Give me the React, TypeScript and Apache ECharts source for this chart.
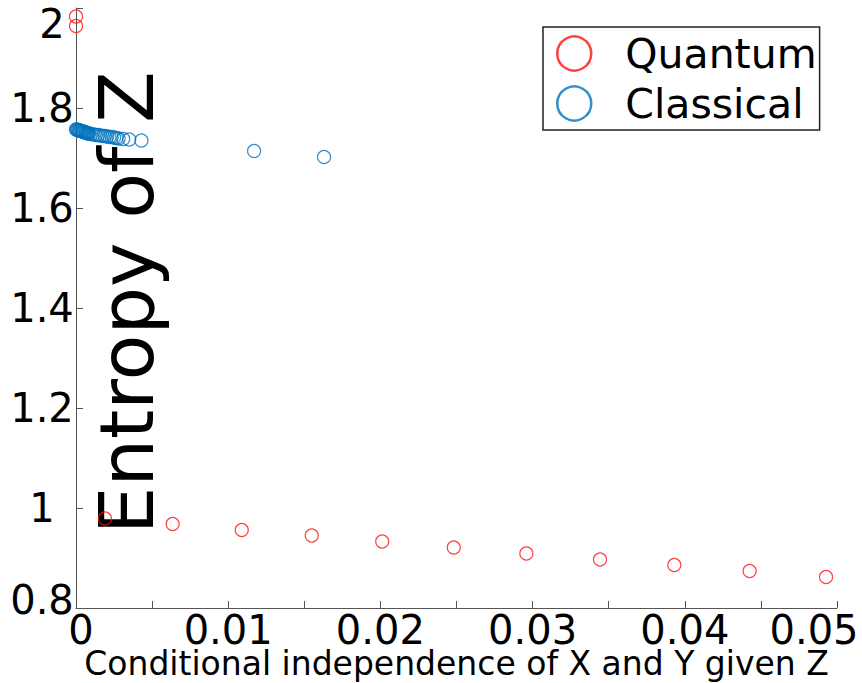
import React, { useEffect, useRef } from "react";
import * as echarts from "echarts";

const quantumX = [0, 0, 0.0019, 0.00635, 0.01089, 0.01549, 0.02012, 0.02482, 0.02959, 0.03443, 0.03931, 0.04426, 0.04928];
const quantumY = [1.983, 1.964, 0.979, 0.968, 0.956, 0.945, 0.933, 0.921, 0.909, 0.897, 0.886, 0.874, 0.862];

const classicalX = [
  0, 0.00005, 0.0001, 0.00015, 0.0002, 0.00025, 0.0003, 0.00035, 0.0004, 0.00045,
  0.0005, 0.00055, 0.0006, 0.00065, 0.0007, 0.00075, 0.0008, 0.00085, 0.001, 0.00115,
  0.0013, 0.00145, 0.0016, 0.00175, 0.0019, 0.00205, 0.0022, 0.00235, 0.0025, 0.00265,
  0.0028, 0.0031, 0.0035, 0.0043, 0.0117, 0.0163,
];
const classicalY = [
  1.757, 1.757, 1.756, 1.756, 1.755, 1.755, 1.754, 1.754, 1.753, 1.753,
  1.752, 1.752, 1.751, 1.751, 1.75, 1.75, 1.749, 1.749, 1.748, 1.747,
  1.746, 1.746, 1.745, 1.744, 1.744, 1.743, 1.742, 1.742, 1.741, 1.74,
  1.739, 1.738, 1.737, 1.735, 1.714, 1.702,
];

const seriesNames = ["Quantum", "Classical"];
const xTitle = "Conditional independence of X and Y given Z";
const yTitle = "Entropy of Z";

const FONT = "DejaVu Sans";
const RED = "#ff1010";
const BLUE = "#0072bd";

export default function App() {
  const ref = useRef<HTMLDivElement>(null);
  useEffect(() => {
    if (!ref.current) return;
    const chart = echarts.init(ref.current, undefined, { renderer: "svg" });
    const q = quantumX.map((x, i) => [x, quantumY[i]]);
    const c = classicalX.map((x, i) => [x, classicalY[i]]);
    const labelBase = { fontFamily: FONT, fontSize: 40, color: "#000" };
    const xLabelBase = { ...labelBase, lineHeight: 34 };
    chart.setOption({
      animation: false,
      backgroundColor: "#fff",
      grid: { left: 76, top: 8, right: 25, bottom: 75, containLabel: false, outerBoundsMode: "none" },
      xAxis: {
        type: "value",
        min: 0,
        max: 0.05,
        interval: 0.005,
        name: xTitle,
        nameLocation: "middle",
        nameGap: 40,
        nameMoveOverlap: false,
        nameTextStyle: { fontFamily: FONT, fontSize: 33, lineHeight: 30, color: "#000" },
        axisLine: { show: true, onZero: false, lineStyle: { color: "#555", width: 1 } },
        axisTick: { show: true, inside: true, length: 7, lineStyle: { color: "#555" } },
        splitLine: { show: false },
        axisLabel: {
          ...xLabelBase,
          margin: 5,
          showMinLabel: true,
          showMaxLabel: true,
          formatter: (v: number) => {
            const k = Math.round(v * 1000);
            if (k % 10 !== 0) return "";
            if (k === 0) return "{first|0}";
            if (k === 50) return "{last|0.05}";
            return String(k / 1000);
          },
          rich: {
            first: { ...xLabelBase, padding: [0, 0, 0, 10] },
            last: { ...xLabelBase, padding: [0, 46, 0, 0] },
          },
        },
      },
      yAxis: {
        type: "value",
        min: 0.8,
        max: 2,
        interval: 0.2,
        axisLine: { show: true, onZero: false, lineStyle: { color: "#555", width: 1 } },
        axisTick: { show: true, inside: true, length: 7, lineStyle: { color: "#555" } },
        splitLine: { show: false },
        axisLabel: {
          ...labelBase,
          margin: 34,
          align: "center",
          showMinLabel: true,
          showMaxLabel: true,
          formatter: (v: number) => {
            const r = Math.round(v * 10) / 10;
            if (r === 2) return "{top|2}";
            if (r === 0.8) return "{bot|0.8}";
            return String(r);
          },
          rich: {
            top: { ...labelBase, padding: [32, 0, 0, 20] },
            bot: { ...labelBase, padding: [0, 0, 16, 0] },
          },
        },
      },
      legend: {
        left: 543,
        top: 27,
        orient: "vertical",
        padding: [6, 3, 6, 13],
        itemGap: 9,
        itemWidth: 34,
        itemHeight: 34,
        borderColor: "#222",
        borderWidth: 1.5,
        backgroundColor: "#fff",
        formatter: (name: string) => "{t|" + name + "}",
        textStyle: {
          fontFamily: FONT,
          fontSize: 41,
          color: "#000",
          rich: { t: { fontFamily: FONT, fontSize: 41, lineHeight: 40, color: "#000", padding: [0, 0, 0, 29] } },
        },
        data: [
          { name: seriesNames[0], icon: "circle", itemStyle: { color: "rgba(0,0,0,0)", borderColor: RED, borderWidth: 2.5 } },
          { name: seriesNames[1], icon: "circle", itemStyle: { color: "rgba(0,0,0,0)", borderColor: BLUE, borderWidth: 2.5 } },
        ],
      },
      graphic: [
        {
          type: "text",
          x: 127,
          y: 534,
          rotation: Math.PI / 2,
          z: 0,
          style: {
            text: yTitle,
            fontFamily: FONT,
            fontSize: 75,
            fill: "#000",
            textAlign: "left",
            textVerticalAlign: "middle",
          },
        },
      ],
      series: [
        {
          name: seriesNames[0],
          type: "scatter",
          data: q,
          symbol: "circle",
          symbolSize: 13,
          z: 3,
          itemStyle: { color: "rgba(0,0,0,0)", borderColor: RED, borderWidth: 1.2 },
        },
        {
          name: seriesNames[1],
          type: "scatter",
          data: c,
          symbol: "circle",
          symbolSize: 13,
          z: 3,
          itemStyle: { color: "rgba(0,0,0,0)", borderColor: BLUE, borderWidth: 1.2 },
        },
      ],
    });
    return () => chart.dispose();
  }, []);
  return <div ref={ref} style={{ width: 862, height: 683, position: "absolute", left: 0, top: 0 }} />;
}
